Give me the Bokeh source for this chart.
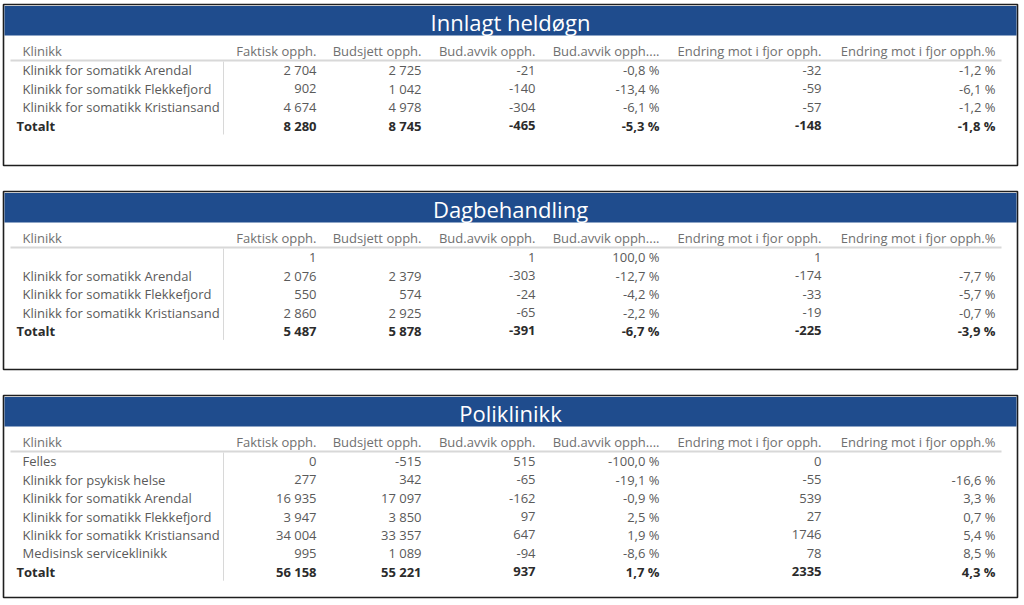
from bokeh.plotting import figure
from bokeh.models import Range1d
from bokeh.core.properties import value
from bokeh.embed import file_html
from bokeh.resources import INLINE

# ---------------- data ----------------
titles = ["Innlagt heldøgn", "Dagbehandling", "Poliklinikk"]
col_headers = ["Klinikk", "Faktisk opph.", "Budsjett opph.", "Bud.avvik opph.",
               "Bud.avvik opph....", "Endring mot i fjor opph.", "Endring mot i fjor opph.%"]

# Innlagt heldøgn
inn_klinikk = ["Klinikk for somatikk Arendal", "Klinikk for somatikk Flekkefjord",
               "Klinikk for somatikk Kristiansand", "Totalt"]
inn_faktisk = [2704, 902, 4674, 8280]
inn_budsjett = [2725, 1042, 4978, 8745]
inn_avvik = [-21, -140, -304, -465]
inn_avvik_pct = [-0.8, -13.4, -6.1, -5.3]
inn_endring = [-32, -59, -57, -148]
inn_endring_pct = [-1.2, -6.1, -1.2, -1.8]

# Dagbehandling
dag_klinikk = ["", "Klinikk for somatikk Arendal", "Klinikk for somatikk Flekkefjord",
               "Klinikk for somatikk Kristiansand", "Totalt"]
dag_faktisk = [1, 2076, 550, 2860, 5487]
dag_budsjett = [None, 2379, 574, 2925, 5878]
dag_avvik = [1, -303, -24, -65, -391]
dag_avvik_pct = [100.0, -12.7, -4.2, -2.2, -6.7]
dag_endring = [1, -174, -33, -19, -225]
dag_endring_pct = [None, -7.7, -5.7, -0.7, -3.9]

# Poliklinikk
pol_klinikk = ["Felles", "Klinikk for psykisk helse", "Klinikk for somatikk Arendal",
               "Klinikk for somatikk Flekkefjord", "Klinikk for somatikk Kristiansand",
               "Medisinsk serviceklinikk", "Totalt"]
pol_faktisk = [0, 277, 16935, 3947, 34004, 995, 56158]
pol_budsjett = [-515, 342, 17097, 3850, 33357, 1089, 55221]
pol_avvik = [515, -65, -162, 97, 647, -94, 937]
pol_avvik_pct = [-100.0, -19.1, -0.9, 2.5, 1.9, -8.6, 1.7]
pol_endring = [0, -55, 539, 27, 1746, 78, 2335]
pol_endring_pct = [None, -16.6, 3.3, 0.7, 5.4, 8.5, 4.3]

tables = [
    (inn_klinikk, inn_faktisk, inn_budsjett, inn_avvik, inn_avvik_pct, inn_endring, inn_endring_pct),
    (dag_klinikk, dag_faktisk, dag_budsjett, dag_avvik, dag_avvik_pct, dag_endring, dag_endring_pct),
    (pol_klinikk, pol_faktisk, pol_budsjett, pol_avvik, pol_avvik_pct, pol_endring, pol_endring_pct),
]

# ---------------- formatting ----------------
def fmt_int(v, sep=True):
    if v is None:
        return ""
    s = f"{abs(v):,}".replace(",", " ") if sep else str(abs(v))
    return ("-" if v < 0 else "") + s

def fmt_pct(v):
    if v is None:
        return ""
    return f"{v:.1f}".replace(".", ",") + " %"

# ---------------- layout ----------------
FONT = "Open Sans"
W, H = 1024, 605
p = figure(width=W, height=H, output_backend="svg", toolbar_location=None,
           x_range=Range1d(0, W), y_range=Range1d(H, 0),
           min_border=0, outline_line_color=None)
p.axis.visible = False
p.grid.visible = False
p.background_fill_color = "white"

panel_top = [4, 191, 395]
panel_bot = [165, 369, 597]
left, right = 3, 1017
col_right = [316, 421, 535, 659, 821, 995]
row_h = 18.4

blue = "#1f4c8d"
hdr_color = "#707070"
txt_color = "#5a5a5a"
tot_color = "#2b2b2b"

for k, (title, tbl) in enumerate(zip(titles, tables)):
    top, bot = panel_top[k], panel_bot[k]
    p.quad(left=[left], right=[right], top=[top], bottom=[bot],
           fill_color="white", line_color="#1e1e1e", line_width=1.6)
    p.quad(left=[left + 1], right=[right - 1], top=[top + 1.5], bottom=[top + 31],
           fill_color=blue, line_color=None)
    p.text(x=[510], y=[top + 17], text=[title], text_color="white",
           text_font=value(FONT), text_font_size="22px",
           text_align="center", text_baseline="middle")

    hy = top + 46.5
    p.text(x=[22], y=[hy], text=[col_headers[0]], text_color=hdr_color,
           text_font=value(FONT), text_font_size="13px",
           text_align="left", text_baseline="middle")
    p.text(x=col_right, y=[hy] * 6, text=col_headers[1:], text_color=hdr_color,
           text_font=value(FONT), text_font_size="13px",
           text_align="right", text_baseline="middle")
    p.segment(x0=[10], x1=[1001], y0=[top + 56], y1=[top + 56],
              line_color="#d8d8d8", line_width=2)

    klin, fak, bud, avv, avvp, endr, endrp = tbl
    n = len(klin)
    ys = [top + 65.8 + i * row_h for i in range(n)]
    p.segment(x0=[223], x1=[223], y0=[top + 57], y1=[ys[-1] + 9],
              line_color="#d8d8d8", line_width=1)

    cols = [
        [fmt_int(v) for v in fak],
        [fmt_int(v) for v in bud],
        [fmt_int(v) for v in avv],
        [fmt_pct(v) for v in avvp],
        [fmt_int(v, sep=False) for v in endr],
        [fmt_pct(v) for v in endrp],
    ]
    body = slice(0, n - 1)
    p.text(x=[22] * (n - 1), y=ys[body], text=klin[body], text_color=txt_color,
           text_font=value(FONT), text_font_size="13px",
           text_align="left", text_baseline="middle")
    for c, xr in enumerate(col_right):
        p.text(x=[xr] * (n - 1), y=ys[body], text=cols[c][body], text_color=txt_color,
               text_font=value(FONT), text_font_size="13px",
               text_align="right", text_baseline="middle")
    p.text(x=[16], y=[ys[-1]], text=[klin[-1]], text_color=tot_color,
           text_font=value(FONT), text_font_size="13px", text_font_style="bold",
           text_align="left", text_baseline="middle")
    p.text(x=col_right, y=[ys[-1]] * 6, text=[cl[-1] for cl in cols],
           text_color=tot_color, text_font=value(FONT), text_font_size="13px",
           text_font_style="bold", text_align="right", text_baseline="middle")

open("out.html", "w").write(file_html(p, INLINE))
